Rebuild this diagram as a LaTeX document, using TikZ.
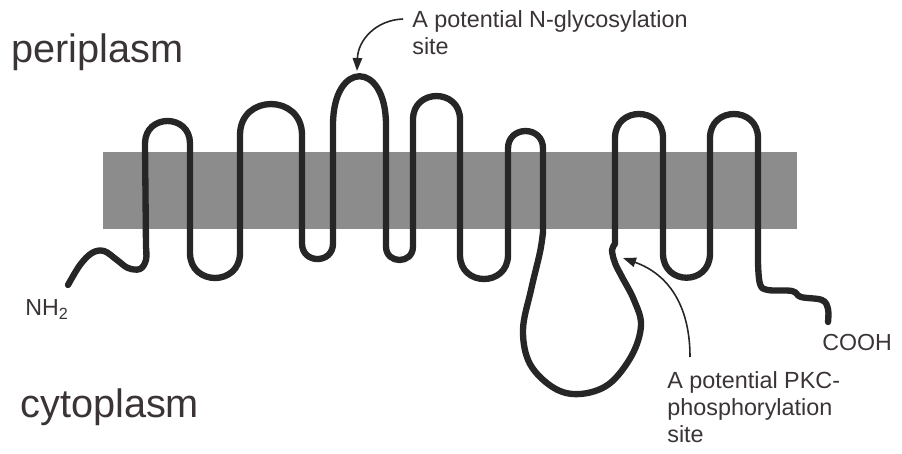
\documentclass[tikz,border=0pt]{standalone}
\usepackage{fontspec}
\setmainfont{Liberation Sans}
\usepackage{tikz}
\usetikzlibrary{arrows.meta}
\definecolor{ink}{HTML}{3B3437}
\definecolor{strand}{HTML}{262626}
\definecolor{bilayer}{HTML}{8C8C8C}
\tikzset{
  every node/.style={text=ink, inner sep=0pt},
  membrane/.style={fill=bilayer, draw=none},
  protein/.style={draw=strand, line width=3.6pt, line join=round, line cap=round},
  pointer/.style={-{Triangle[length=2.6mm,width=1.9mm]}, draw=strand,
    line width=0.9pt},
  region/.style={font=\fontsize{22.6}{26}\selectfont, anchor=base west},
  terminus/.style={font=\fontsize{13.2}{15}\selectfont, anchor=base west},
  note/.style={font=\fontsize{13.3}{15.4}\selectfont, align=left,
    anchor=north west}
}
\begin{document}
\begin{tikzpicture}[x=0.02cm,y=-0.02cm]
  \useasboundingbox (0,0) rectangle (902,453);

  % Lipid bilayer band.
  \fill[membrane] (103,152) rectangle (797,229);

  % Compartment labels.
  \node[region] (peri) at (11,62) {periplasm};
  \node[region] (cyto) at (20,417) {cytoplasm};

  % Polypeptide chain, N terminus to C terminus.
  \draw[protein] plot[smooth, tension=0.6] coordinates {(68,285) (80,265)
      (92,253) (104,251) (117,260) (128,268) (140,269) (146,260) (146,247)}
    -- (145,143.5) .. controls (145,113.5) and (190,113.5) .. (190,143.5)
    -- (190,253) .. controls (190,286.3) and (240,286.3) .. (240,253)
    -- (240,135) .. controls (240,93.7) and (302,93.7) .. (302,135)
    -- (302,243.5) .. controls (302,264.2) and (333,264.2) .. (333,243.5)
    -- (333,125) .. controls (333,60) and (386,60) .. (386,125)
    -- (386,246.5) .. controls (386,264.5) and (413,264.5) .. (413,246.5)
    -- (413,119.5) .. controls (413,88.2) and (460,88.2) .. (460,119.5)
    -- (460,255) .. controls (460,287) and (508,287) .. (508,255)
    -- (508,148.5) .. controls (508,125.2) and (543,125.2) .. (543,148.5)
    -- (543,232) -- plot[smooth, tension=0.6] coordinates {(543,232)
      (540,252) (531,290) (523,330) (530,364) (554,388) (580,394) (609,384)
      (632,355) (641,325) (634,300) (622,277) (615,263) (612,250) (615,244)}
    -- (615,138) .. controls (615,106) and (663,106) .. (663,138)
    -- (663,253.5) .. controls (663,285.8) and (710,285.8) .. (710,253.5)
    -- (710,138) .. controls (710,106) and (758,106) .. (758,138)
    -- (758,262) -- plot[smooth, tension=0.6] coordinates {(758,262)
      (760,284) (768,290) (792,291) (801,297) (822,300) (828,309) (828,322)};

  % Termini.
  \node[terminus] (nterm) at (25,315) {NH\textsubscript{2}};
  \node[terminus] (cterm) at (822,350) {COOH};

  % Modification sites and their callouts.
  \coordinate (glyco-site) at (357,71);
  \coordinate (glyco-tail) at (403,19);
  \node[note] (glyco) at (412,10) {A potential N-glycosylation\\site};
  \draw[pointer] (glyco-tail) .. controls (376,20) and (358,40) .. (glyco-site);

  \coordinate (pkc-site) at (623,258);
  \coordinate (pkc-tail) at (690,357);
  \node[note] (pkc) at (667,371) {A potential PKC-\\phosphorylation\\site};
  \draw[pointer] (pkc-tail) .. controls (690,305) and (668,274) .. (pkc-site);
\end{tikzpicture}
\end{document}
